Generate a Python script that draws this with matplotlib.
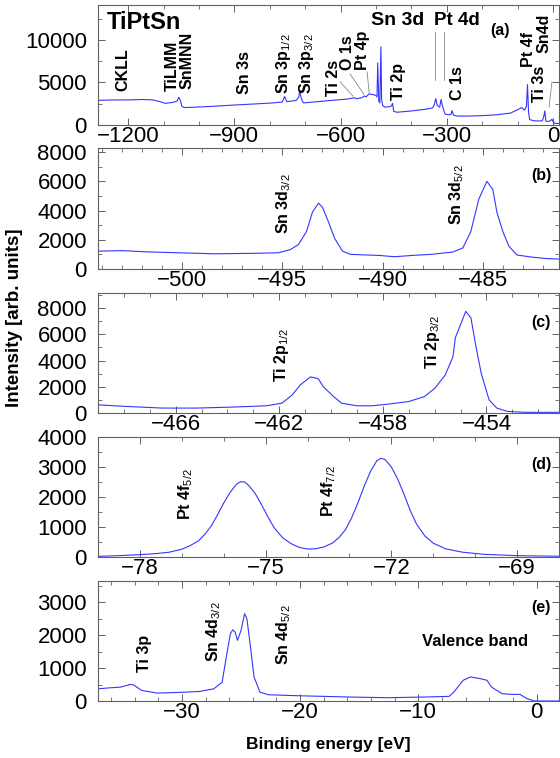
import matplotlib
matplotlib.use("Agg")
import matplotlib.pyplot as plt
from matplotlib.ticker import MultipleLocator

plt.rcParams['font.family'] = ['Liberation Sans', 'DejaVu Sans']
plt.rcParams['mathtext.fontset'] = 'custom'
plt.rcParams['mathtext.rm'] = 'Liberation Sans'
plt.rcParams['mathtext.it'] = 'Liberation Sans'

# (a) survey spectrum
survey_ev = [-1285, -1240, -1200, -1160, -1130, -1110, -1095, -1075, -1062, -1057,
             -1053, -1048, -1042, -1020, -960, -900, -840, -790, -765, -758,
             -752, -740, -725, -718, -715, -711, -705, -690, -650, -610,
             -580, -562, -555, -540, -532, -528, -520, -512, -505, -500,
             -497, -495, -492, -489, -486, -484, -481, -475, -462, -456,
             -453, -450, -440, -400, -360, -340, -335, -331, -327, -320,
             -316, -312, -305, -295, -288, -285, -281, -270, -240, -200,
             -160, -120, -95, -88, -80, -75, -72, -69, -66, -55,
             -40, -30, -26, -23, -20, -12, -6, -3, 0, 5, 17]
survey_int = [2900, 2950, 2950, 3000, 2950, 2750, 2550, 2650, 2800, 3250,
              2950, 2200, 2050, 2080, 2200, 2350, 2480, 2600, 2700, 3350,
              2750, 2800, 2900, 3300, 4100, 3100, 2600, 2650, 2800, 2950,
              3050, 3200, 3100, 3200, 3400, 3300, 3650, 3600, 3550, 3450,
              3300, 7300, 2800, 2600, 9200, 3000, 2300, 2100, 2150, 2250,
              2550, 1600, 1500, 1650, 1850, 2000, 2400, 3100, 2300, 2100,
              3000, 2200, 1300, 1200, 1250, 1700, 1150, 1050, 1050, 1100,
              1200, 1400, 1900, 2050, 1750, 2200, 4750, 1500, 650, 500,
              470, 500, 1000, 1650, 450, 420, 550, 680, 400, 200, 180]

# (b) Sn 3d
sn3d_ev = [-504.2, -503.0, -501.9, -500.2, -498.4, -496.6, -495.2, -494.6, -494.2, -493.8,
           -493.5, -493.2, -493.0, -492.7, -492.4, -492.0, -491.6, -490.2, -489.4, -488.5,
           -487.6, -486.5, -486.0, -485.6, -485.2, -484.8, -484.5, -484.3, -484.0, -483.7,
           -483.3, -482.6, -481.8, -481.0]
sn3d_int = [1220, 1260, 1180, 1110, 1040, 1070, 1110, 1330, 1670, 2560,
            3890, 4510, 4220, 3220, 2110, 1220, 1000, 930, 840, 930,
            1000, 1160, 1440, 2560, 4780, 6000, 5440, 3890, 2560, 1560,
            960, 820, 710, 670]

# (c) Ti 2p
ti2p_ev = [-469.0, -467.9, -466.5, -465.2, -463.8, -462.5, -461.9, -461.5, -461.2, -460.8,
           -460.5, -460.3, -459.9, -459.6, -459.0, -458.4, -457.7, -457.0, -456.4, -456.0,
           -455.6, -455.3, -455.2, -454.9, -454.8, -454.6, -454.4, -454.2, -453.9, -453.6,
           -453.2, -452.5, -451.2]
ti2p_int = [625, 500, 375, 375, 450, 550, 750, 1375, 2125, 2750,
            2625, 2000, 1250, 750, 550, 550, 700, 875, 1250, 1875,
            2875, 4250, 5750, 7250, 7750, 7250, 5000, 3000, 1000, 375,
            125, 50, 50]

# (d) Pt 4f
pt4f_ev = [-79.0, -78.5, -78.0, -77.6, -77.3, -77.0, -76.8, -76.6, -76.45, -76.3,
           -76.15, -76.0, -75.85, -75.7, -75.6, -75.5, -75.4, -75.25, -75.1, -74.95,
           -74.8, -74.6, -74.4, -74.2, -74.0, -73.8, -73.6, -73.4, -73.25, -73.1,
           -72.95, -72.8, -72.65, -72.5, -72.35, -72.25, -72.15, -72.0, -71.85, -71.7,
           -71.55, -71.4, -71.2, -71.0, -70.7, -70.3, -69.8, -69.0, -68.0]
pt4f_int = [22, 45, 78, 115, 160, 260, 380, 540, 760, 1030,
            1400, 1800, 2150, 2420, 2510, 2500, 2380, 2120, 1750, 1350,
            980, 650, 450, 320, 265, 275, 340, 470, 650, 900,
            1300, 1800, 2350, 2850, 3200, 3290, 3250, 3000, 2600, 2100,
            1550, 1100, 700, 460, 270, 160, 90, 45, 25]

# (e) shallow core levels and valence band
vb_ev = [-37.1, -36.1, -35.2, -34.4, -34.1, -33.4, -32.1, -30.3, -28.5, -27.3,
         -26.6, -26.2, -25.9, -25.7, -25.5, -25.3, -25.0, -24.7, -24.5, -24.2,
         -23.9, -23.4, -22.7, -20.2, -15.7, -12.6, -9.6, -7.4, -7.0, -6.2,
         -5.6, -4.8, -4.2, -3.8, -2.9, -2.0, -1.4, -0.8, -0.15, 1.9]
vb_int = [370, 400, 420, 500, 490, 320, 240, 260, 290, 370,
          570, 1430, 2040, 2160, 2090, 1840, 2140, 2650, 2490, 1640,
          730, 270, 190, 160, 120, 100, 120, 140, 270, 630,
          730, 680, 630, 420, 220, 200, 200, 70, 0, 0]

line_color = '#3535ff'
frame_color = '#606060'

fig = plt.figure(figsize=(5.6, 7.58), dpi=100)
left, width = 98 / 560, 461 / 560
tops = [4.7, 148, 293, 437, 581]
bots = [125, 269, 413, 557, 701]
axes = []
for t, b in zip(tops, bots):
    axes.append(fig.add_axes([left, 1 - b / 758, width, (b - t) / 758]))

# xlim, ylim, x major step, x offset, x minor, y major, y minor
panels = [
    (survey_ev, survey_int, (-1285, 17), (0, 14150), 300, 0, 100, 5000, 2500),
    (sn3d_ev, sn3d_int, (-504.2, -481.2), (0, 8280), 5, 0, 1, 2000, 1000),
    (ti2p_ev, ti2p_int, (-469.0, -451.2), (0, 9150), 4, 2, 1, 2000, 1000),
    (pt4f_ev, pt4f_int, (-79.0, -68.0), (0, 4000), 3, 0, 1, 1000, 500),
    (vb_ev, vb_int, (-37.1, 1.9), (0, 3640), 10, 0, 2, 1000, 500),
]

for ax, (xs, ys, xl, yl, xmaj, xoff, xmin, ymaj, ymin) in zip(axes, panels):
    ax.plot(xs, ys, color=line_color, lw=0.8)
    ax.set_xlim(*xl)
    ax.set_ylim(*yl)
    ax.xaxis.set_major_locator(MultipleLocator(xmaj, offset=xoff))
    ax.xaxis.set_minor_locator(MultipleLocator(xmin))
    ax.yaxis.set_major_locator(MultipleLocator(ymaj))
    ax.yaxis.set_minor_locator(MultipleLocator(ymin))
    ax.tick_params(which='both', direction='in', top=True, right=True,
                   color=frame_color, labelsize=16)
    ax.tick_params(axis='x', pad=1)
    ax.tick_params(axis='y', pad=8)
    ax.tick_params(which='major', length=5, width=0.7)
    ax.tick_params(which='minor', length=3, width=0.6)
    for s in ax.spines.values():
        s.set_color(frame_color)
        s.set_linewidth(0.8)

lab = dict(fontsize=11.5, fontweight='bold', rotation=90, ha='center', va='bottom')
tag = dict(fontsize=11.5, fontweight='bold', va='center', ha='center')

# panel (a)
a = axes[0]
a.text(-1259, 12100, 'TiPtSn', fontsize=17, fontweight='bold', va='center', ha='left')
a.text(-1214, 4000, 'CKLL', **lab)
a.text(-1076, 4000, 'TiLMM', **lab)
a.text(-1033, 4240, 'SnMNN', **lab)
a.text(-872, 3650, 'Sn 3s', **lab)
a.text(-760, 3600, r'Sn 3p$_{\mathrm{1/2}}$', **lab)
a.text(-697, 3600, r'Sn 3p$_{\mathrm{3/2}}$', **lab)
a.text(-621, 3400, 'Ti 2s', **lab)
a.text(-579, 6470, 'O 1s', **lab)
a.text(-537, 6470, 'Pt 4p', **lab)
a.text(-514, 12350, 'Sn 3d', fontsize=14, fontweight='bold', va='center', ha='left')
a.text(-435, 2900, 'Ti 2p', **lab)
a.text(-336, 12350, 'Pt 4d', fontsize=13.5, fontweight='bold', va='center', ha='left')
a.text(-271, 2940, 'C 1s', **lab)
a.text(-150, 11060, '(a)', **tag)
a.text(-68, 6800, 'Pt 4f', **lab)
a.text(-37, 2700, 'Ti 3s', **lab)
a.text(-25, 8470, 'Sn4d', **lab)
leaders = [((-601, -565), (5060, 3400)), ((-573, -533), (6000, 3530)),
           ((-525, -519), (6240, 3760)), ((-332, -332), (10940, 5300)),
           ((-309, -309), (10940, 5300)), ((-3, -11), (5060, 2100))]
for lx, ly in leaders:
    a.plot(lx, ly, color='#888888', lw=0.6)

# panel (b)
b = axes[1]
b.text(-494.95, 2400, r'Sn 3d$_{\mathrm{3/2}}$', **lab)
b.text(-486.3, 3000, r'Sn 3d$_{\mathrm{5/2}}$', **lab)
b.text(-482.1, 6370, '(b)', **tag)

# panel (c)
c = axes[2]
c.text(-461.9, 2370, r'Ti 2p$_{\mathrm{1/2}}$', **lab)
c.text(-456.1, 3360, r'Ti 2p$_{\mathrm{3/2}}$', **lab)
c.text(-451.9, 6870, '(c)', **tag)

# panel (d)
d = axes[3]
d.text(-76.9, 1230, r'Pt 4f$_{\mathrm{5/2}}$', **lab)
d.text(-73.5, 1330, r'Pt 4f$_{\mathrm{7/2}}$', **lab)
d.text(-68.43, 3070, '(d)', **tag)

# panel (e)
e = axes[4]
e.text(-33.2, 880, 'Ti 3p', **lab)
e.text(-27.3, 1180, r'Sn 4d$_{\mathrm{3/2}}$', **lab)
e.text(-21.4, 1090, r'Sn 4d$_{\mathrm{5/2}}$', **lab)
e.text(-5.2, 1820, 'Valence band', fontsize=12, fontweight='bold', va='center', ha='center')
e.text(0.4, 2850, '(e)', **tag)

fig.text(15 / 560, 1 - 318 / 758, 'Intensity [arb. units]', rotation=90,
         fontsize=13.5, fontweight='bold', ha='center', va='center')
fig.text((98 + 559) / 2 / 560, 1 - 744 / 758, 'Binding energy [eV]',
         fontsize=12.5, fontweight='bold', ha='center', va='center')

fig.savefig('out.png', dpi=100)
